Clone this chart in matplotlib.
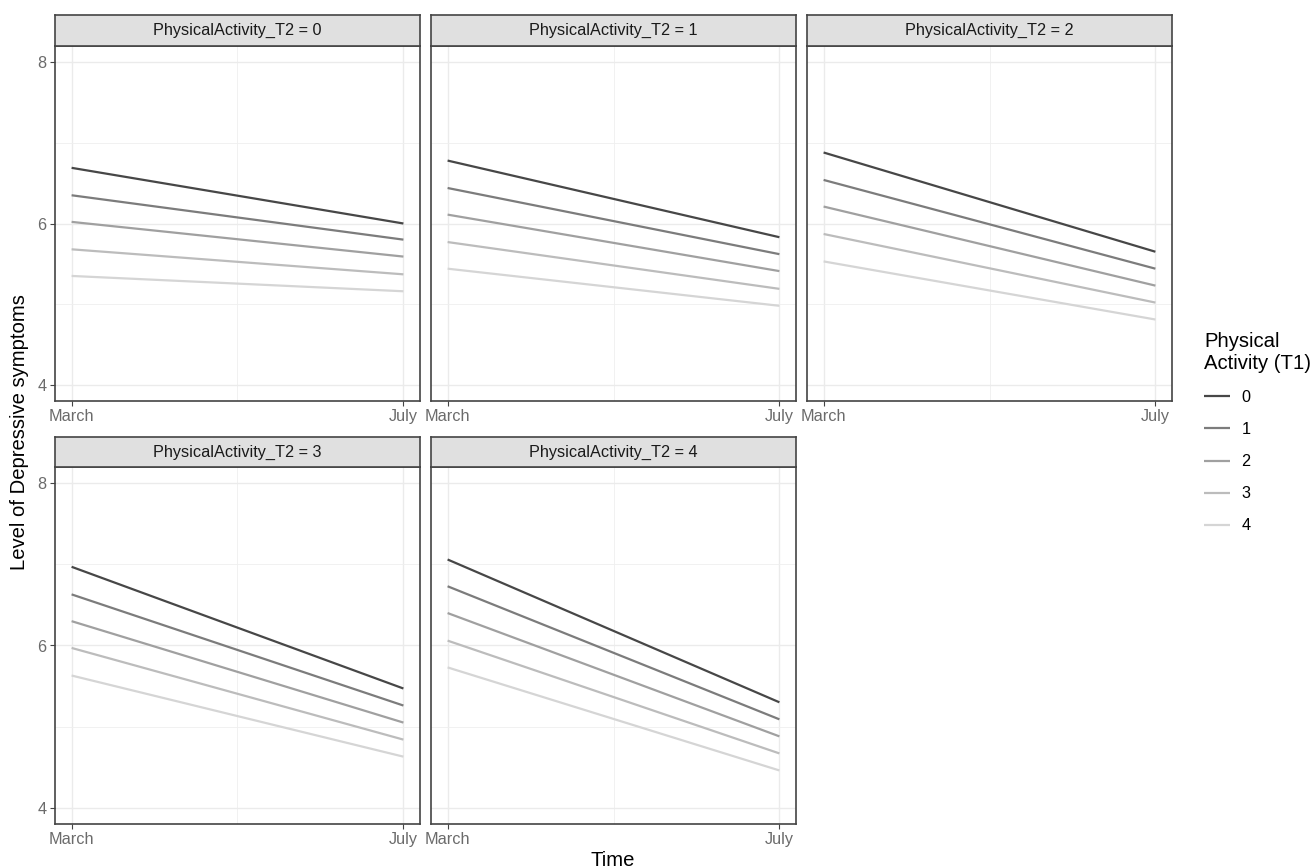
import matplotlib
matplotlib.use("Agg")
import matplotlib.pyplot as plt
from matplotlib.ticker import FixedLocator

plt.rcParams['font.family'] = ['Liberation Sans', 'DejaVu Sans']

# data
time_labels = ["March", "July"]
time_pos = [0, 1]
pa_t1 = ["0", "1", "2", "3", "4"]
pa_t2 = [0, 1, 2, 3, 4]
march = [
    [6.69, 6.35, 6.02, 5.68, 5.35],
    [6.78, 6.44, 6.11, 5.77, 5.44],
    [6.88, 6.54, 6.21, 5.87, 5.53],
    [6.97, 6.63, 6.30, 5.97, 5.63],
    [7.06, 6.73, 6.40, 6.06, 5.73],
]
july = [
    [6.00, 5.80, 5.59, 5.37, 5.16],
    [5.83, 5.62, 5.41, 5.19, 4.98],
    [5.65, 5.44, 5.23, 5.02, 4.81],
    [5.47, 5.26, 5.05, 4.84, 4.63],
    [5.30, 5.09, 4.88, 4.67, 4.46],
]
greys = ["#474747", "#7C7C7C", "#A0A0A0", "#BCBCBC", "#D5D5D5"]

W, H = 1311, 868
fig = plt.figure(figsize=(W / 100, H / 100), dpi=100)


def px_axes(x0, y0, x1, y1):
    return fig.add_axes([x0 / W, 1 - y1 / H, (x1 - x0) / W, (y1 - y0) / H])


cols = [(55, 420), (431, 796), (807, 1172)]
rows = [(46, 401, 15), (467, 824, 437)]

border = "#444444"
handles = []
for k, t2 in enumerate(pa_t2):
    r, c = divmod(k, 3)
    x0, x1 = cols[c]
    y0, y1, s0 = rows[r]
    ax = px_axes(x0, y0, x1, y1)
    for i in range(len(pa_t1)):
        ln, = ax.plot(time_pos, [march[k][i], july[k][i]], color=greys[i],
                      lw=1.6, solid_capstyle='butt', zorder=3)
        if k == 0:
            handles.append(ln)
    ax.set_xlim(-0.05, 1.05)
    ax.set_ylim(3.8, 8.2)
    ax.set_xticks(time_pos)
    ax.set_xticklabels(time_labels)
    ax.set_yticks([4, 6, 8])
    ax.xaxis.set_minor_locator(FixedLocator([0.5]))
    ax.yaxis.set_minor_locator(FixedLocator([5, 7]))
    ax.grid(which='major', color='#EBEBEB', lw=1.0, zorder=0)
    ax.grid(which='minor', color='#EFEFEF', lw=0.6, zorder=0)
    ax.set_axisbelow(True)
    ax.tick_params(which='major', length=3.6, width=0.8, color=border,
                   labelsize=11.7, labelcolor='#6B6B6B', pad=2.5)
    ax.tick_params(which='minor', length=0)
    if c != 0:
        ax.tick_params(axis='y', length=0, labelleft=False)
    for sp in ax.spines.values():
        sp.set_color(border)
        sp.set_linewidth(1.2)

    # facet strip
    st = px_axes(x0, s0, x1, y0)
    st.set_facecolor('#E0E0E0')
    st.set_xticks([])
    st.set_yticks([])
    for sp in st.spines.values():
        sp.set_color(border)
        sp.set_linewidth(1.2)
    st.text(0.5, 0.5, f"PhysicalActivity_T2 = {t2}", ha='center', va='center',
            fontsize=11.7, color='#1A1A1A', transform=st.transAxes)

fig.text(613 / W, 1 - 861 / H, "Time", ha='center', va='center', fontsize=14.6)
fig.text(20 / W, 1 - 432 / H, "Level of Depressive symptoms", ha='center',
         va='center', rotation=90, fontsize=14.6)

leg = fig.legend(handles, pa_t1, loc='upper left',
                 bbox_to_anchor=(1204 / W, 1 - 332 / H), frameon=False,
                 title="Physical\nActivity (T1)", title_fontsize=14.6,
                 fontsize=11.7, alignment='left', handlelength=1.6,
                 handletextpad=0.7, labelspacing=1.05, borderpad=0,
                 borderaxespad=0)

fig.savefig("out.png", dpi=100)
